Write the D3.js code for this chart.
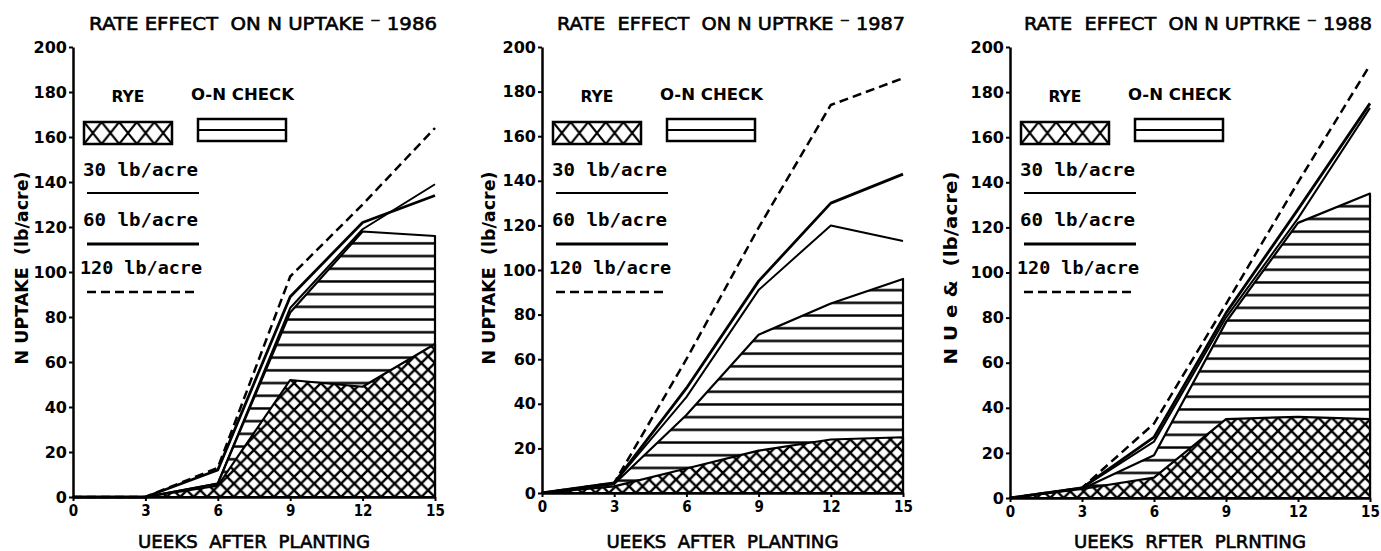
<!DOCTYPE html>
<html>
<head>
<meta charset="utf-8">
<title>Rate effect on N uptake</title>
<script src="https://cdn.jsdelivr.net/npm/d3@7"></script>
<style>
body { margin: 0; background: #fff; }
svg { display: block; }
text { font-family: "DejaVu Sans", sans-serif; fill: #000; white-space: pre; }
.axis path, .axis line { stroke: #000; }
.axis path { stroke-width: 2.5px; }
.axis line { stroke-width: 2px; }
.y.axis text { font: bold 16px "DejaVu Sans", sans-serif; }
.x.axis text { font: bold 15px "DejaVu Sans Condensed", "DejaVu Sans", sans-serif; }
.line { fill: none; stroke: #000; stroke-linejoin: round; }
.heading { stroke: #000; stroke-width: 0.6px; }
</style>
</head>
<body>
<svg id="chart" width="1381" height="551"></svg>
<script>
// weeks after planting and axis ticks
var weeks = [0, 3, 6, 9, 12, 15];
var weekTicks = [0, 3, 6, 9, 12, 15];
var uptakeTicks = [0, 20, 40, 60, 80, 100, 120, 140, 160, 180, 200];

var titles = ["RATE EFFECT  ON N UPTAKE \u207B 1986",
              "RATE  EFFECT  ON N UPTRKE \u207B 1987",
              "RATE  EFFECT  ON N UPTRKE \u207B 1988"];
var xTitles = ["UEEKS  AFTER  PLANTING", "UEEKS  AFTER  PLANTING", "UEEKS  RFTER  PLRNTING"];
var yTitles = ["N UPTAKE  (lb/acre)", "N UPTAKE  (lb/acre)", "N U e &  (lb/acre)"];
var areaNames = ["RYE", "O-N CHECK"];
var rateNames = ["30 lb/acre", "60 lb/acre", "120 lb/acre"];

// N uptake, lb/acre
var rye1986   = [0, 0, 5, 52, 49, 68];
var check1986 = [0, 0, 6, 82, 118, 116];
var n30_1986  = [0, 0, 6, 84, 119, 139];
var n60_1986  = [0, 0, 12, 89, 122, 134];
var n120_1986 = [0, 0, 13, 98, 130, 164];

var rye1987   = [0, 3, 11, 19, 24, 25];
var check1987 = [0, 4, 35, 71, 85, 96];
var n30_1987  = [0, 4.5, 43, 91, 120, 113];
var n60_1987  = [0, 4.5, 47, 95, 130, 143];
var n120_1987 = [0, 4.5, 60, 119, 174, 186];

var rye1988   = [0, 4, 9, 35, 36, 35];
var check1988 = [0, 4, 19, 78, 122, 135];
var n30_1988  = [0, 4.5, 25, 80, 124, 173];
var n60_1988  = [0, 4.5, 27, 82, 128, 175];
var n120_1988 = [0, 4.5, 33, 86, 140, 192];

var panels = [
	{rye: rye1986, check: check1986, n30: n30_1986, n60: n60_1986, n120: n120_1986},
	{rye: rye1987, check: check1987, n30: n30_1987, n60: n60_1987, n120: n120_1987},
	{rye: rye1988, check: check1988, n30: n30_1988, n60: n60_1988, n120: n120_1988}
];

// plot frames (pixels)
var frames = [
	{left: 73,   right: 435,  bottom: 497, top: 47, ylab: 28},
	{left: 542,  right: 903,  bottom: 493, top: 47, ylab: 495},
	{left: 1010, right: 1370, bottom: 498, top: 47, ylab: 957}
];

var svg = d3.select("#chart");
svg.append("rect").attr("width", 1381).attr("height", 551).attr("fill", "#fff");
var defs = svg.append("defs");

panels.forEach(function(p, i) {
	var f = frames[i];
	var x = d3.scaleLinear().domain([0, 15]).range([f.left, f.right]);
	var y = d3.scaleLinear().domain([0, 200]).range([f.bottom, f.top]);
	var g = svg.append("g");

	// horizontal hatch for the 0-N check
	var hp = defs.append("pattern")
		.attr("id", "hatch" + i)
		.attr("patternUnits", "userSpaceOnUse")
		.attr("x", 0).attr("y", f.bottom - 6)
		.attr("width", 40).attr("height", 12.7);
	hp.append("rect").attr("width", 40).attr("height", 12.7).attr("fill", "#fff");
	hp.append("line").attr("x1", 0).attr("x2", 40).attr("y1", 6.35).attr("y2", 6.35)
		.attr("stroke", "#000").attr("stroke-width", 2.2);

	// cross hatch for rye
	var s = 13.4;
	var xp = defs.append("pattern")
		.attr("id", "xhatch" + i)
		.attr("patternUnits", "userSpaceOnUse")
		.attr("x", f.left).attr("y", f.bottom)
		.attr("width", s).attr("height", s);
	xp.append("rect").attr("width", s).attr("height", s).attr("fill", "#fff");
	xp.append("path")
		.attr("d", "M-1,-1L" + (s + 1) + "," + (s + 1) + "M" + (s + 1) + ",-1L-1," + (s + 1))
		.attr("stroke", "#000").attr("stroke-width", 2.4);

	var area = d3.area()
		.x(function(d, k) { return x(weeks[k]); })
		.y0(y(0))
		.y1(function(d) { return y(d); });
	var line = d3.line()
		.x(function(d, k) { return x(weeks[k]); })
		.y(function(d) { return y(d); });

	// areas
	g.append("path").attr("d", area(p.check))
		.attr("fill", "url(#hatch" + i + ")")
		.attr("stroke", "#000").attr("stroke-width", 2.2).attr("stroke-linejoin", "round");
	g.append("path").attr("d", area(p.rye))
		.attr("fill", "url(#xhatch" + i + ")")
		.attr("stroke", "#000").attr("stroke-width", 2.2).attr("stroke-linejoin", "round");

	// rate lines
	g.append("path").attr("class", "line").attr("d", line(p.n30)).attr("stroke-width", 2);
	g.append("path").attr("class", "line").attr("d", line(p.n60)).attr("stroke-width", 2.8);
	g.append("path").attr("class", "line").attr("d", line(p.n120))
		.attr("stroke-width", 2.5).attr("stroke-dasharray", "9,5");

	// axes
	var yAxis = d3.axisLeft(y).tickValues(uptakeTicks).tickSize(4).tickSizeOuter(0).tickPadding(2);
	var xAxis = d3.axisBottom(x).tickValues(weekTicks).tickSize(4).tickSizeOuter(0).tickPadding(4);
	g.append("g").attr("class", "y axis")
		.attr("transform", "translate(" + f.left + ",0)")
		.call(yAxis);
	g.append("g").attr("class", "x axis")
		.attr("transform", "translate(0," + f.bottom + ")")
		.call(xAxis);

	// titles
	g.append("text").attr("class", "heading")
		.attr("x", f.right + 2).attr("y", 30)
		.attr("text-anchor", "end")
		.attr("textLength", 348).attr("lengthAdjust", "spacingAndGlyphs")
		.style("font-size", "18px")
		.text(titles[i]);
	g.append("text").attr("class", "heading")
		.attr("x", (f.left + f.right) / 2).attr("y", 548)
		.attr("text-anchor", "middle")
		.attr("textLength", 232).attr("lengthAdjust", "spacingAndGlyphs")
		.style("font-size", "18px")
		.text(xTitles[i]);
	g.append("text")
		.attr("transform", "translate(" + f.ylab + "," + 268 + ") rotate(-90)")
		.attr("text-anchor", "middle")
		.attr("textLength", 193).attr("lengthAdjust", "spacingAndGlyphs")
		.style("font-size", "17px").style("font-weight", "bold")
		.text(yTitles[i]);

	// legend
	var L = f.left;
	var lg = g.append("g");
	lg.append("text").attr("x", L + 55).attr("y", 102).attr("text-anchor", "middle")
		.attr("textLength", 33).attr("lengthAdjust", "spacingAndGlyphs")
		.style("font-size", "16px").style("font-weight", "bold")
		.text(areaNames[0]);
	lg.append("text").attr("x", L + 118).attr("y", 100)
		.attr("textLength", 103).attr("lengthAdjust", "spacingAndGlyphs")
		.style("font-size", "16px").style("font-weight", "bold")
		.text(areaNames[1]);

	var bw = 88, bh = 22, bx = L + 11, by = 122;
	var lp = defs.append("pattern")
		.attr("id", "lxhatch" + i)
		.attr("patternUnits", "userSpaceOnUse")
		.attr("x", bx).attr("y", by)
		.attr("width", bw / 5).attr("height", bh);
	lp.append("rect").attr("width", bw / 5).attr("height", bh).attr("fill", "#fff");
	lp.append("path")
		.attr("d", "M-1,-1.2L" + (bw / 5 + 1) + "," + (bh + 1.2) + "M" + (bw / 5 + 1) + ",-1.2L-1," + (bh + 1.2))
		.attr("stroke", "#000").attr("stroke-width", 2.2);
	lg.append("rect").attr("x", bx).attr("y", by).attr("width", bw).attr("height", bh)
		.attr("fill", "url(#lxhatch" + i + ")").attr("stroke", "#000").attr("stroke-width", 2.5);
	lg.append("rect").attr("x", L + 125).attr("y", 119).attr("width", 88).attr("height", 22)
		.attr("fill", "#fff").attr("stroke", "#000").attr("stroke-width", 2.5);
	lg.append("line").attr("x1", L + 125).attr("x2", L + 213).attr("y1", 130).attr("y2", 130)
		.attr("stroke", "#000").attr("stroke-width", 2.2);

	var rateY = [176, 226, 274];
	var lineY = [193, 244, 292];
	rateNames.forEach(function(name, k) {
		lg.append("text").attr("x", L + (k === 2 ? 7 : 10)).attr("y", rateY[k])
			.attr("textLength", k === 2 ? 122 : 115).attr("lengthAdjust", "spacingAndGlyphs")
			.style("font-family", "'DejaVu Sans Mono', monospace")
			.style("font-size", "18px").style("font-weight", "bold")
			.text(name);
		lg.append("line").attr("x1", L + 14).attr("x2", L + 126)
			.attr("y1", lineY[k]).attr("y2", lineY[k])
			.attr("stroke", "#000")
			.attr("stroke-width", k === 0 ? 2 : (k === 1 ? 2.8 : 2.5))
			.attr("stroke-dasharray", k === 2 ? "9,5" : null);
	});
});
</script>
</body>
</html>
